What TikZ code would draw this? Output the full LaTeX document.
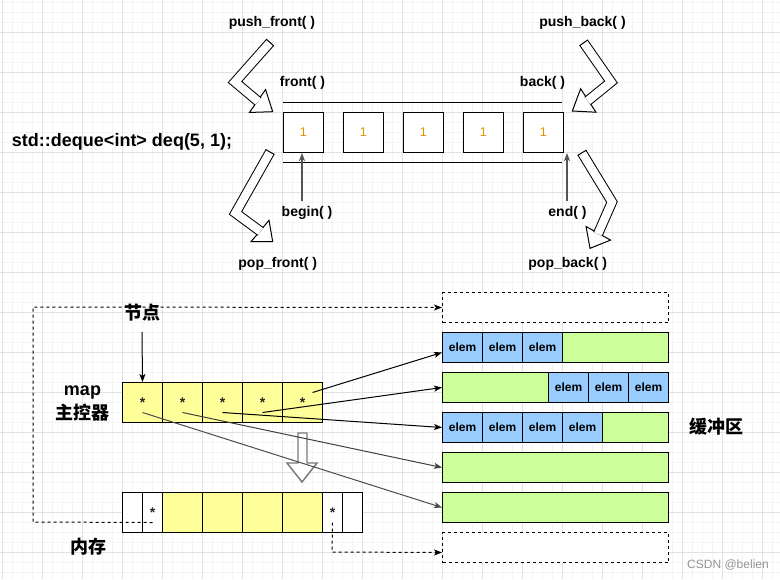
\documentclass[tikz,border=0pt]{standalone}
\usepackage{fontspec}
\setmainfont{Liberation Sans}
\newfontfamily\cjk{Noto Sans CJK SC}
\usetikzlibrary{arrows.meta,calc}
\definecolor{gminor}{HTML}{F4F4F4}
\definecolor{gmajor}{HTML}{E2E2E2}
\definecolor{yel}{HTML}{FFFF99}
\definecolor{grn}{HTML}{CCFF99}
\definecolor{blu}{HTML}{99CCFF}
\definecolor{onecol}{HTML}{E69500}
\definecolor{arrgray}{HTML}{555555}
\definecolor{hollowgray}{HTML}{7A7A7A}
\newcommand{\blockarr}[4]{%
  \filldraw[fill=white, draw=black, line width=0.75pt, line join=miter] (#4) -- ($(#3)!10.5pt!90:(#4)$) -- ($(#3)!10.5pt!-90:(#4)$) -- cycle;
  \draw[line width=0.75pt, double=white, double distance=6.2pt, line join=miter] (#1) -- (#2) -- ($(#3)!0.6pt!(#4)$);
  \draw[line width=0.75pt] ($(#1)!3.85pt!90:(#2)$) -- ($(#1)!3.85pt!-90:(#2)$);
}
\begin{document}
\begin{tikzpicture}[x=0.75pt,y=-0.75pt,
  lbl/.style={font=\bfseries\fontsize{10.5}{12}\selectfont, inner sep=0},
  big/.style={font=\bfseries\fontsize{13.5}{15}\selectfont, inner sep=0},
  cjkl/.style={font=\cjk\bfseries\fontsize{13.5}{15}\selectfont, inner sep=0},
  onebox/.style={draw, line width=0.75pt, fill=white, minimum width=30pt, minimum height=30pt, inner sep=0, anchor=north west, text=onecol, font=\fontsize{9.5}{10}\selectfont},
  mapc/.style={draw, line width=0.75pt, fill=yel, minimum height=30pt, inner sep=0, anchor=north west, font=\bfseries\fontsize{10.5}{11}\selectfont, text=black!85},
  memc/.style={mapc, fill=white},
  buf/.style={draw, line width=0.75pt, fill=grn, minimum width=169.5pt, minimum height=22.5pt, inner sep=0, anchor=north west},
  dbuf/.style={buf, fill=white, dash pattern=on 2.25pt off 2.25pt},
  elemc/.style={draw, line width=0.75pt, fill=blu, minimum width=30pt, minimum height=22.5pt, inner sep=0, anchor=north west, font=\bfseries\fontsize{9}{10}\selectfont},
  ptr/.style={line width=0.75pt, -{Stealth[length=6pt,width=4.5pt,inset=1.5pt]}},
  dptr/.style={ptr, dash pattern=on 2.25pt off 2.25pt},
]
\useasboundingbox (0,0) rectangle (780,579);
\fill[white] (0,0) rectangle (780,579);
% grid
\foreach \i in {0,...,77} {\draw[gminor, line width=0.75pt] ({2+10*\i},0) -- ({2+10*\i},579);}
\foreach \j in {0,...,57} {\draw[gminor, line width=0.75pt] (0,{2+10*\j}) -- (780,{2+10*\j});}
\foreach \i in {0,...,19} {\draw[gmajor, line width=0.75pt] ({2+40*\i},0) -- ({2+40*\i},579);}
\foreach \j in {0,...,13} {\draw[gmajor, line width=0.75pt] (0,{32+40*\j}) -- (780,{32+40*\j});}

% ---------- top part ----------
\node[big] (decl) at (122,142) {std::deque<int> deq(5, 1);};
\coordinate (tl1) at (283,102); \coordinate (tr1) at (562,102);
\coordinate (tl2) at (283,162); \coordinate (tr2) at (562,162);
\draw[line width=0.75pt] (tl1) -- (tr1);
\draw[line width=0.75pt] (tl2) -- (tr2);
\foreach \k/\xx in {1/283,2/343,3/403,4/463,5/523} {\node[onebox] (b\k) at (\xx,112) {1};}

\node[lbl] (pf) at (272,23) {push\_front( )};
\node[lbl] (pb) at (582.5,23) {push\_back( )};
\node[lbl] (fr) at (302.5,83) {front( )};
\node[lbl] (bk) at (542.5,83) {back( )};
\node[lbl] (bg) at (307,213) {begin( )};
\node[lbl] (en) at (567.5,213) {end( )};
\node[lbl] (ppf) at (277.7,264) {pop\_front( )};
\node[lbl] (ppb) at (567.7,264) {pop\_back( )};

\coordinate (bgs) at (302,201); \coordinate (bge) at (302,153);
\coordinate (ens) at (567,201); \coordinate (ene) at (567,153);
\draw[ptr, arrgray, line width=1.1pt] (bgs) -- (bge);
\draw[ptr, arrgray, line width=1.1pt] (ens) -- (ene);

% block arrows
\coordinate (pfa) at (270,42.5); \coordinate (pfb) at (235,82); \coordinate (pfc) at (257.5,101); \coordinate (pfd) at (272.7,111.7);
\coordinate (pba) at (583.7,42.8); \coordinate (pbb) at (611,82); \coordinate (pbc) at (588.3,100.5); \coordinate (pbd) at (572.3,111);
\coordinate (ofa) at (270,152); \coordinate (ofb) at (235.5,213); \coordinate (ofc) at (260,231); \coordinate (ofd) at (272.7,241.7);
\coordinate (oba) at (582,152.8); \coordinate (obb) at (612,202); \coordinate (obc) at (598.3,233.3); \coordinate (obd) at (590,248.3);
\blockarr{pfa}{pfb}{pfc}{pfd}
\blockarr{pba}{pbb}{pbc}{pbd}
\blockarr{ofa}{ofb}{ofc}{ofd}
\blockarr{oba}{obb}{obc}{obd}

% ---------- bottom part ----------
\node[cjkl] (jd) at (142.5,312.7) {节点};
\node[big] (mapl) at (82.5,392.7) {map};
\node[cjkl] (zkq) at (82.7,412.7) {主控器};
\node[cjkl] (nc) at (88,546.7) {内存};
\node[cjkl] (hcq) at (716.7,426.7) {缓冲区};
\node[inner sep=0, text=black!42, font=\fontsize{9}{10}\selectfont] (wm) at (728,565) {CSDN @belien};

% map cells
\foreach \k/\xx in {1/122,2/162,3/202,4/242,5/282} {\node[mapc, minimum width=30pt] (m\k) at (\xx,382) {*};}
% memory cells
\node[memc, minimum width=15pt] (k1) at (122,492) {};
\node[memc, minimum width=15pt] (k2) at (142,492) {*};
\node[mapc, minimum width=30pt] (k3) at (162,492) {};
\node[mapc, minimum width=30pt] (k4) at (202,492) {};
\node[mapc, minimum width=30pt] (k5) at (242,492) {};
\node[mapc, minimum width=30pt] (k6) at (282,492) {};
\node[memc, minimum width=15pt] (k7) at (322,492) {*};
\node[memc, minimum width=15pt] (k8) at (342,492) {};

% buffers
\node[dbuf] (dt) at (442,292) {};
\node[buf] (r1) at (442,332) {};
\node[buf] (r2) at (442,372) {};
\node[buf] (r3) at (442,412) {};
\node[buf] (r4) at (442,452) {};
\node[buf] (r5) at (442,492) {};
\node[dbuf] (db) at (442,532) {};
\foreach \k/\xx in {1/442,2/482,3/522} {\node[elemc] (ea\k) at (\xx,332) {elem};}
\foreach \k/\xx in {1/548,2/588,3/628} {\node[elemc] (eb\k) at (\xx,372) {elem};}
\foreach \k/\xx in {1/442,2/482,3/522,4/562} {\node[elemc] (ec\k) at (\xx,412) {elem};}

% hollow down arrow
\filldraw[fill=white, draw=hollowgray, line width=1.1pt, line join=miter]
  (298,433) -- (307,433) -- (307,463) -- (317,463) -- (302,482) -- (287,463) -- (298,463) -- cycle;

% node label arrow
\coordinate (jds) at (142,332);
\draw[ptr] (jds) -- (m1.north);

% pointers
\coordinate (s5) at ($(m5.center)+(10,-10)$);
\coordinate (s4) at ($(m4.center)+(0,10)$);
\coordinate (s3) at ($(m3.center)+(0,10)$);
\coordinate (s2) at ($(m2.center)+(0,10)$);
\coordinate (s1) at ($(m1.center)+(0,10)$);
\draw[ptr] (s5) -- ($(r1.west)+(0,5)$);
\draw[ptr] (s4) -- (r2.west);
\draw[ptr] (s3) -- (r3.west);
\draw[ptr, black!75] (s2) -- (r4.west);
\draw[ptr, black!70] (s1) -- (r5.west);

% dashed links
\coordinate (q1) at ($(k2.center)+(0,10)$);
\coordinate (q2) at (33,522);
\coordinate (q3) at (33,307);
\draw[dptr] (q1) -- (q2) -- (q3) -- (dt.west);
\coordinate (q4) at ($(k7.center)+(0,10)$);
\coordinate (q5) at (332,552);
\draw[dptr] (q4) -- (q5) -- ($(db.west)+(0,5)$);
\end{tikzpicture}
\end{document}
